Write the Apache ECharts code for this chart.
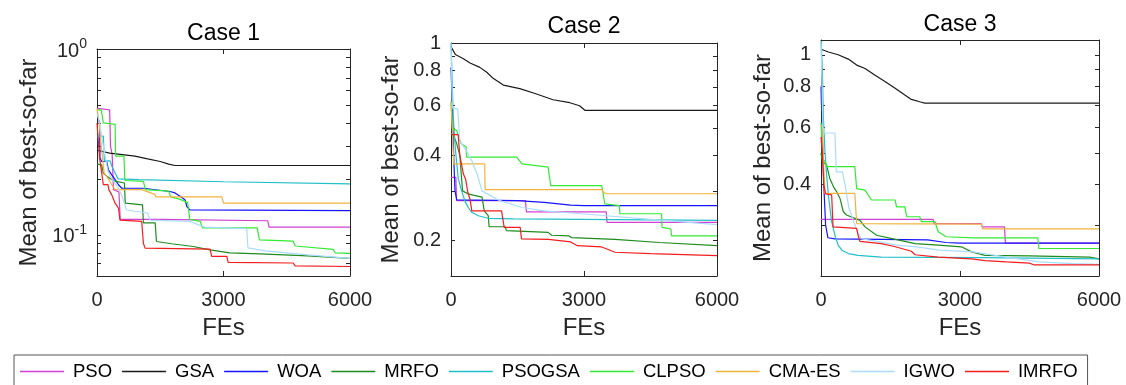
<!DOCTYPE html>
<html><head><meta charset="utf-8">
<script src="https://cdn.jsdelivr.net/npm/echarts@6/dist/echarts.min.js"></script>
<style>html,body{margin:0;padding:0;background:#fff}#c{width:1126px;height:385px}</style>
</head><body><div id="c"></div>
<script>
// ---------- data ----------
const seriesNames = ['PSO','GSA','WOA','MRFO','PSOGSA','CLPSO','CMA-ES','IGWO','IMRFO'];
const caseTitles = ['Case 1','Case 2','Case 3'];
const xTicks = [0, 3000, 6000];
const yRanges = [[0.06, 1], [0.15, 1], [0.21, 1.11]];
const yLabelTicks = [[0.1, 1], [0.2, 0.4, 0.6, 0.8, 1], [0.4, 0.6, 0.8, 1]];
const yAllTicks = [
  [0.07, 0.08, 0.09, 0.1, 0.2, 0.3, 0.4, 0.5, 0.6, 0.7, 0.8, 0.9, 1],
  [0.2, 0.3, 0.4, 0.5, 0.6, 0.7, 0.8, 0.9, 1],
  [0.3, 0.4, 0.5, 0.6, 0.7, 0.8, 0.9, 1]
];

// Case 1
const c1_PSO = [[0,0.48],[300,0.47],[320,0.30],[360,0.27],[390,0.175],[520,0.17],[550,0.121],[1500,0.121],[4050,0.119],[4080,0.11],[6000,0.11]];
const c1_GSA = [[0,0.285],[300,0.275],[600,0.27],[900,0.265],[1200,0.256],[1500,0.248],[1700,0.24],[1850,0.236],[6000,0.236]];
const c1_WOA = [[0,0.41],[60,0.41],[70,0.26],[110,0.248],[230,0.248],[270,0.224],[350,0.21],[430,0.198],[510,0.186],[590,0.178],[1100,0.178],[1140,0.175],[1730,0.171],[1850,0.168],[1970,0.161],[2090,0.154],[2130,0.142],[2200,0.136],[6000,0.135]];
const c1_MRFO = [[0,0.24],[110,0.238],[150,0.215],[250,0.205],[400,0.195],[650,0.19],[670,0.148],[1080,0.145],[1100,0.116],[1380,0.116],[1410,0.092],[1770,0.0895],[2280,0.0865],[2680,0.083],[3150,0.08],[3860,0.079],[5000,0.077],[6000,0.0746]];
const c1_PSOGSA = [[0,0.34],[150,0.34],[175,0.25],[310,0.25],[355,0.233],[430,0.215],[500,0.2],[1000,0.198],[3000,0.193],[6000,0.188]];
const c1_CLPSO = [[0,0.47],[100,0.47],[150,0.40],[430,0.393],[440,0.265],[640,0.265],[660,0.196],[1100,0.194],[1150,0.175],[1700,0.172],[1750,0.16],[1970,0.155],[2150,0.149],[2200,0.121],[2450,0.118],[2500,0.109],[3800,0.109],[3850,0.094],[4650,0.0925],[4700,0.087],[5600,0.0834],[5650,0.080],[6000,0.0795]];
const c1_CMAES = [[0,0.48],[40,0.42],[100,0.30],[170,0.215],[270,0.20],[350,0.186],[430,0.175],[1060,0.175],[1100,0.172],[1370,0.165],[1400,0.16],[2960,0.16],[3000,0.148],[6000,0.148]];
const c1_IGWO = [[0,0.45],[60,0.40],[150,0.30],[260,0.22],[350,0.20],[500,0.18],[600,0.16],[700,0.136],[1200,0.131],[1260,0.12],[2200,0.118],[2550,0.11],[3550,0.108],[3580,0.085],[4000,0.082],[5000,0.078],[6000,0.0746]];
const c1_IMRFO = [[0,0.40],[30,0.40],[60,0.26],[150,0.186],[260,0.186],[280,0.175],[350,0.164],[430,0.148],[510,0.139],[545,0.12],[1060,0.118],[1100,0.09],[1140,0.0848],[2680,0.0838],[2720,0.0765],[3080,0.0765],[3110,0.071],[4650,0.0705],[4700,0.068],[6000,0.0675]];

// Case 2
const c2_PSO = [[0,0.335],[110,0.335],[125,0.277],[1680,0.277],[1700,0.253],[3500,0.253],[3520,0.232],[6000,0.232]];
const c2_GSA = [[0,0.97],[50,0.94],[100,0.91],[280,0.88],[430,0.85],[650,0.82],[800,0.79],[950,0.75],[1180,0.71],[1550,0.69],[1930,0.66],[2300,0.63],[2680,0.615],[2900,0.60],[3020,0.578],[6000,0.578]];
const c2_WOA = [[0,0.82],[30,0.6],[60,0.4],[90,0.30],[130,0.279],[1500,0.277],[2100,0.273],[2700,0.267],[3000,0.266],[6000,0.266]];
const c2_MRFO = [[0,0.48],[60,0.47],[130,0.44],[200,0.40],[260,0.30],[400,0.292],[700,0.285],[750,0.255],[840,0.245],[860,0.224],[1220,0.224],[1250,0.217],[2190,0.214],[2270,0.209],[2650,0.208],[2720,0.205],[3700,0.202],[4700,0.197],[6000,0.192]];
const c2_PSOGSA = [[0,1.0],[20,0.8],[50,0.55],[100,0.42],[165,0.33],[240,0.30],[315,0.276],[390,0.262],[466,0.252],[616,0.245],[841,0.24],[1400,0.239],[6000,0.236]];
const c2_CLPSO = [[0,0.62],[30,0.50],[130,0.49],[230,0.44],[340,0.43],[350,0.395],[1480,0.395],[1600,0.374],[2190,0.364],[2250,0.313],[3400,0.313],[3470,0.27],[3800,0.266],[3810,0.249],[4750,0.249],[4760,0.223],[4960,0.22],[4975,0.208],[6000,0.208]];
const c2_CMAES = [[0,0.62],[30,0.5],[60,0.374],[760,0.374],[770,0.303],[3400,0.303],[3450,0.296],[3500,0.293],[6000,0.293]];
const c2_IGWO = [[0,1.0],[30,0.59],[150,0.585],[200,0.45],[330,0.42],[480,0.38],[600,0.34],[700,0.30],[1100,0.277],[1600,0.262],[2100,0.255],[2800,0.25],[3500,0.245],[4500,0.238],[6000,0.228]];
const c2_IMRFO = [[0,0.474],[160,0.474],[200,0.40],[280,0.344],[330,0.33],[380,0.296],[430,0.28],[470,0.255],[1140,0.255],[1200,0.223],[1560,0.223],[1590,0.203],[2200,0.202],[2700,0.198],[2850,0.192],[3400,0.19],[3700,0.182],[4500,0.18],[6000,0.177]];

// Case 3
const c3_PSO = [[0,0.313],[2420,0.313],[2440,0.304],[3460,0.304],[3480,0.297],[3960,0.297],[3980,0.265],[6000,0.265]];
const c3_GSA = [[0,1.04],[160,1.02],[370,1.0],[590,0.97],[770,0.93],[950,0.908],[1160,0.867],[1380,0.828],[1600,0.79],[1810,0.753],[1950,0.73],[2130,0.718],[2240,0.711],[6000,0.711]];
const c3_WOA = [[0,0.8],[30,0.55],[60,0.40],[100,0.30],[150,0.275],[300,0.273],[2300,0.271],[2700,0.266],[3000,0.265],[6000,0.265]];
const c3_MRFO = [[0,0.50],[30,0.47],[120,0.46],[190,0.418],[270,0.394],[340,0.38],[410,0.363],[480,0.331],[550,0.323],[840,0.311],[950,0.297],[1200,0.28],[1560,0.273],[2030,0.264],[2530,0.261],[3030,0.258],[3250,0.249],[3540,0.243],[4500,0.242],[5800,0.24],[6000,0.237]];
const c3_PSOGSA = [[0,1.1],[30,0.9],[50,0.65],[86,0.505],[122,0.428],[158,0.372],[230,0.308],[300,0.28],[370,0.261],[450,0.252],[590,0.246],[800,0.243],[1300,0.24],[3500,0.239],[6000,0.237]];
const c3_CLPSO = [[0,0.62],[40,0.48],[90,0.47],[120,0.454],[730,0.454],[770,0.389],[950,0.385],[1090,0.359],[1600,0.359],[1630,0.342],[1810,0.342],[1850,0.319],[2130,0.319],[2170,0.308],[2460,0.308],[2530,0.287],[2700,0.277],[3300,0.275],[4680,0.275],[4700,0.255],[6000,0.255]];
const c3_CMAES = [[0,0.61],[30,0.6],[60,0.45],[86,0.376],[730,0.376],[770,0.304],[3460,0.303],[3490,0.293],[6000,0.293]];
const c3_IGWO = [[0,1.1],[40,0.6],[80,0.576],[300,0.576],[330,0.438],[460,0.438],[520,0.40],[600,0.34],[700,0.31],[800,0.283],[880,0.273],[1270,0.267],[1630,0.261],[2060,0.258],[2560,0.252],[3280,0.249],[4000,0.240],[4700,0.232],[5440,0.229],[6000,0.228]];
const c3_IMRFO = [[0,0.56],[30,0.50],[60,0.40],[100,0.375],[230,0.372],[260,0.297],[770,0.294],[800,0.28],[840,0.268],[1300,0.264],[1560,0.259],[1740,0.255],[1950,0.25],[2030,0.244],[2530,0.240],[3250,0.237],[3540,0.234],[4000,0.232],[4500,0.23],[4600,0.227],[6000,0.227]];

const caseData = [
  [c1_PSO, c1_GSA, c1_WOA, c1_MRFO, c1_PSOGSA, c1_CLPSO, c1_CMAES, c1_IGWO, c1_IMRFO],
  [c2_PSO, c2_GSA, c2_WOA, c2_MRFO, c2_PSOGSA, c2_CLPSO, c2_CMAES, c2_IGWO, c2_IMRFO],
  [c3_PSO, c3_GSA, c3_WOA, c3_MRFO, c3_PSOGSA, c3_CLPSO, c3_CMAES, c3_IGWO, c3_IMRFO]
];

// ---------- styles / layout ----------
const colors = ['#d23fd2','#1a1a1a','#1414ff','#1f8c1f','#22bfc9','#33ea33','#f1b33e','#aadcff','#f21d1d'];
const FONT = "'Liberation Sans', Arial, Helvetica, sans-serif";
const AX = '#262626';
const grids = [
  {left: 97, top: 49, width: 253, height: 227},
  {left: 451, top: 43, width: 266, height: 233},
  {left: 821, top: 40, width: 278, height: 236}
];
const titleTops = [22, 15, 13];
const yNameGaps = [56, 48, 46];

function yFormatter(i) {
  if (i === 0) {
    return v => (Math.abs(v - 1) < 1e-6 ? '{b|10}{s|0}' : '{b|10}{s|-1}');
  }
  return v => String(+(+v).toFixed(1));
}

const xAxes = [], yAxes = [], titles = [], series = [];
for (let i = 0; i < 3; i++) {
  const base = {
    gridIndex: i, type: 'value', min: xTicks[0], max: xTicks[xTicks.length - 1], interval: xTicks[1] - xTicks[0],
    axisLine: {show: true, onZero: false, lineStyle: {color: AX, width: 1}},
    axisTick: {show: true, inside: true, length: 5, lineStyle: {color: AX}},
    splitLine: {show: false}
  };
  xAxes.push(Object.assign({}, base, {
    position: 'bottom',
    axisLabel: {fontSize: 20, color: AX, fontFamily: FONT, margin: 14, formatter: v => String(v)},
    name: 'FEs', nameLocation: 'middle', nameGap: 40,
    nameTextStyle: {fontSize: 24, color: AX, fontFamily: FONT}
  }));
  xAxes.push(Object.assign({}, base, {position: 'top', axisLabel: {show: false}}));

  const ybase = {
    gridIndex: i, type: 'log', logBase: 10, min: yRanges[i][0], max: yRanges[i][1],
    axisLine: {show: true, onZero: false, lineStyle: {color: AX, width: 1}},
    axisTick: {show: true, inside: true, length: 4, lineStyle: {color: AX}, customValues: yAllTicks[i]},
    splitLine: {show: false}, minorTick: {show: false}
  };
  yAxes.push(Object.assign({}, ybase, {
    position: 'left',
    axisLabel: {
      fontSize: 20, color: AX, fontFamily: FONT, margin: 10,
      customValues: yLabelTicks[i], formatter: yFormatter(i),
      rich: {
        b: {fontSize: 20, color: AX, fontFamily: FONT, verticalAlign: 'bottom', lineHeight: 24},
        s: {fontSize: 14, color: AX, fontFamily: FONT, verticalAlign: 'top', lineHeight: 14}
      }
    },
    name: 'Mean of best-so-far', nameLocation: 'middle', nameGap: yNameGaps[i], nameRotate: 90,
    nameTextStyle: {fontSize: 24, color: AX, fontFamily: FONT}
  }));
  yAxes.push(Object.assign({}, ybase, {position: 'right', axisLabel: {show: false}}));

  titles.push({
    text: caseTitles[i], left: grids[i].left + grids[i].width / 2, top: titleTops[i], textAlign: 'center', padding: 0,
    textStyle: {fontSize: 23, fontWeight: 'normal', color: '#000', fontFamily: FONT}
  });

  for (let j = 0; j < seriesNames.length; j++) {
    series.push({
      type: 'line', name: seriesNames[j], xAxisIndex: 2 * i, yAxisIndex: 2 * i,
      data: caseData[i][j], symbol: 'none', showSymbol: false, clip: true, silent: true,
      lineStyle: {width: 1.2, color: colors[j]}, itemStyle: {color: colors[j]}, z: 2 + j
    });
  }
}

const chart = echarts.init(document.getElementById('c'), null, {renderer: 'canvas'});
chart.setOption({
  animation: false,
  backgroundColor: '#fff',
  title: titles,
  grid: grids,
  xAxis: xAxes,
  yAxis: yAxes,
  legend: {
    data: seriesNames.map(n => ({name: n, icon: 'rect'})), left: 14, top: 355, orient: 'horizontal',
    itemWidth: 44, itemHeight: 1.5, itemGap: 10, selectedMode: false,
    borderColor: '#555', borderWidth: 1, padding: [7, 10, 20, 6],
    textStyle: {fontSize: 18.5, color: '#000', fontFamily: FONT, padding: [0, 0, 0, 4]}
  },
  series: series
});
</script></body></html>
